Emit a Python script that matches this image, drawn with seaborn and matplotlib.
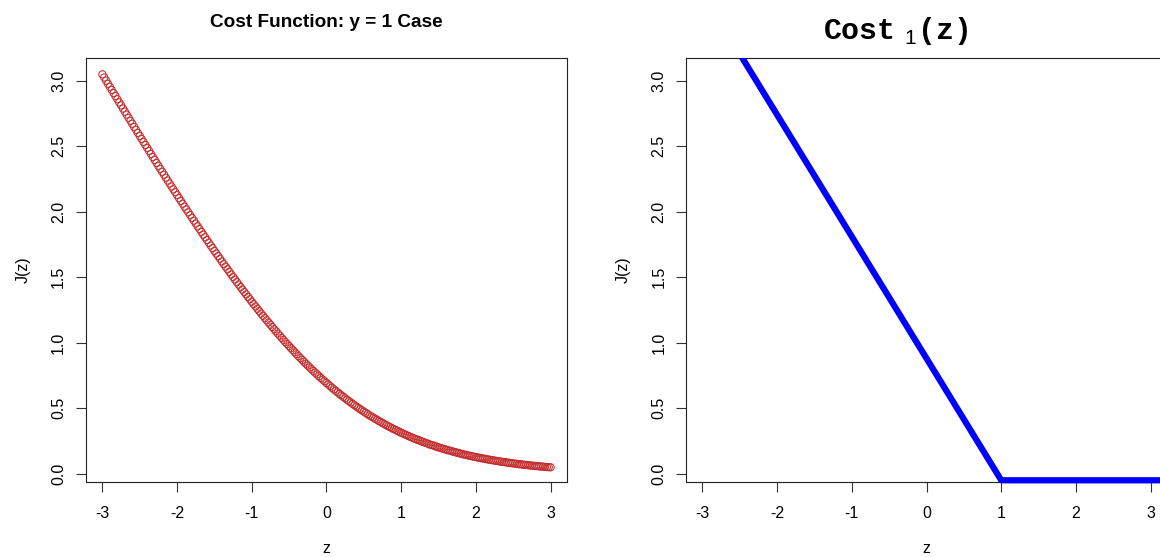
import numpy as np
import matplotlib
matplotlib.use("Agg")
import matplotlib.pyplot as plt
from matplotlib.patches import Rectangle
import seaborn as sns

# sample grid used for the left curve (-3 to 3, step 0.025)
z_grid = np.linspace(-3, 3, 241)

# J(z) for the y = 1 case
cost_y1 = [
    3.049, 3.025, 3.001, 2.977, 2.954, 2.930, 2.906, 2.883, 2.859, 2.835,
    2.812, 2.788, 2.765, 2.742, 2.718, 2.695, 2.672, 2.648, 2.625, 2.602,
    2.579, 2.556, 2.533, 2.510, 2.487, 2.464, 2.441, 2.418, 2.396, 2.373,
    2.350, 2.328, 2.305, 2.283, 2.260, 2.238, 2.216, 2.193, 2.171, 2.149,
    2.127, 2.105, 2.083, 2.061, 2.039, 2.018, 1.996, 1.974, 1.953, 1.932,
    1.910, 1.889, 1.868, 1.847, 1.826, 1.805, 1.784, 1.763, 1.742, 1.722,
    1.701, 1.681, 1.661, 1.641, 1.620, 1.600, 1.581, 1.561, 1.541, 1.521,
    1.502, 1.483, 1.463, 1.444, 1.425, 1.406, 1.387, 1.369, 1.350, 1.332,
    1.313, 1.295, 1.277, 1.259, 1.241, 1.223, 1.206, 1.188, 1.171, 1.154,
    1.137, 1.120, 1.103, 1.087, 1.070, 1.054, 1.037, 1.021, 1.005, 0.990,
    0.974, 0.959, 0.943, 0.928, 0.913, 0.898, 0.883, 0.869, 0.854, 0.840,
    0.826, 0.812, 0.798, 0.784, 0.771, 0.758, 0.744, 0.731, 0.718, 0.706,
    0.693, 0.681, 0.668, 0.656, 0.644, 0.633, 0.621, 0.609, 0.598, 0.587,
    0.576, 0.565, 0.554, 0.544, 0.533, 0.523, 0.513, 0.503, 0.493, 0.484,
    0.474, 0.465, 0.455, 0.446, 0.437, 0.429, 0.420, 0.412, 0.403, 0.395,
    0.387, 0.379, 0.371, 0.363, 0.356, 0.348, 0.341, 0.334, 0.327, 0.320,
    0.313, 0.307, 0.300, 0.294, 0.287, 0.281, 0.275, 0.269, 0.263, 0.258,
    0.252, 0.246, 0.241, 0.236, 0.231, 0.225, 0.220, 0.216, 0.211, 0.206,
    0.201, 0.197, 0.192, 0.188, 0.184, 0.180, 0.176, 0.172, 0.168, 0.164,
    0.160, 0.157, 0.153, 0.149, 0.146, 0.143, 0.139, 0.136, 0.133, 0.130,
    0.127, 0.124, 0.121, 0.118, 0.116, 0.113, 0.110, 0.108, 0.105, 0.103,
    0.100, 0.098, 0.096, 0.093, 0.091, 0.089, 0.087, 0.085, 0.083, 0.081,
    0.079, 0.077, 0.075, 0.073, 0.072, 0.070, 0.068, 0.067, 0.065, 0.063,
    0.062, 0.060, 0.059, 0.058, 0.056, 0.055, 0.054, 0.052, 0.051, 0.050,
    0.049,
]

# Cost_1(z) piecewise line (top part runs off the box)
hinge_z = [-3.0, 1.0, 3.22]
hinge_cost = [3.67, -0.05, -0.05]

x_ticks = [-3, -2, -1, 0, 1, 2, 3]
y_ticks = [0.0, 0.5, 1.0, 1.5, 2.0, 2.5, 3.0]

sns.set_theme(style="white")
plt.rcParams['font.family'] = ['Liberation Sans', 'DejaVu Sans']
plt.rcParams['text.color'] = 'black'
plt.rcParams['axes.labelcolor'] = 'black'
plt.rcParams['mathtext.fontset'] = 'custom'
plt.rcParams['mathtext.rm'] = 'Liberation Mono:bold'
plt.rcParams['mathtext.sf'] = 'Liberation Sans'

fig = plt.figure(figsize=(11.6, 5.57), dpi=100)
ax1 = fig.add_axes([0.0741, 0.1347, 0.4147, 0.7612])
ax2 = fig.add_axes([0.5914, 0.1347, 0.4147, 0.7612])

sns.scatterplot(x=z_grid, y=cost_y1, ax=ax1, marker='o', s=27,
                facecolor='none', edgecolor='#C42C2C', linewidth=0.75)
sns.lineplot(x=hinge_z, y=hinge_cost, ax=ax2, color='#0000FF',
             linewidth=4.5, sort=False, zorder=5)
# let the thick flat segment spill a little past the bottom of the box, like R does
clip_box = Rectangle((0, -0.01), 1.2, 1.01, transform=ax2.transAxes,
                     fill=False, visible=False)
ax2.add_patch(clip_box)
ax2.lines[0].set_clip_path(clip_box)

for ax in [ax1, ax2]:
    ax.set_xlim(-3.22, 3.22)
    ax.set_ylim(-0.063, 3.174)
    ax.set_xticks(x_ticks)
    ax.set_xticklabels([str(t) for t in x_ticks])
    ax.set_yticks(y_ticks)
    ax.set_yticklabels(['%.1f' % t for t in y_ticks], rotation=90, va='center')
    for sp in ax.spines.values():
        sp.set_color('#222222')
        sp.set_linewidth(0.8)
    ax.tick_params(axis='both', direction='out', length=7.2, width=0.8,
                   color='#333333', labelsize=11.5, labelcolor='black',
                   bottom=True, left=True)
    ax.tick_params(axis='x', pad=10)
    ax.tick_params(axis='y', pad=7)
    ax.set_xlabel('z', fontsize=11.5)
    ax.set_ylabel('J(z)', fontsize=11.5)
    ax.xaxis.set_label_coords(0.5, -0.157)
    ax.xaxis.label.set_verticalalignment('center')
    ax.yaxis.set_label_coords(-0.131, 0.5)
    ax.yaxis.label.set_verticalalignment('center')

ax1.set_title('Cost Function: y = 1 Case', fontsize=13.7, fontweight='bold',
              pad=22, color='black')
fig.text(0.7716, 0.944, r'$\mathrm{Cost\ }_{\mathsf{1}}\mathrm{(z)}$',
         fontsize=21.5, ha='center', va='center', color='black')

fig.savefig('out.png', dpi=100)
